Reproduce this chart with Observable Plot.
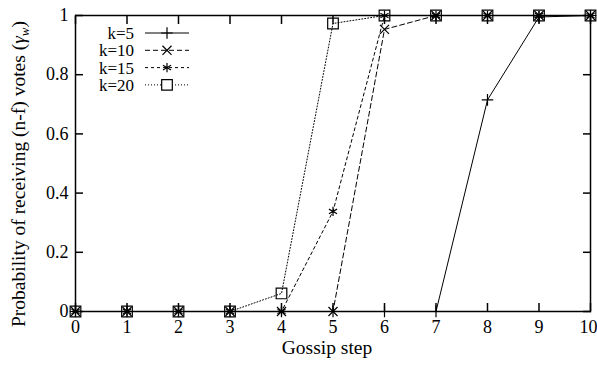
<!DOCTYPE html>
<html><head><meta charset="utf-8">
<script src="https://cdn.jsdelivr.net/npm/d3@7"></script>
<script src="https://cdn.jsdelivr.net/npm/@observablehq/plot@0.6"></script>
<style>body{margin:0;background:#fff}</style>
</head><body><div id="chart"></div>
<script>
const steps = [0,1,2,3,4,5,6,7,8,9,10];
const k5  = [0,0,0,0,0,0,0,0,0.715,0.995,1];
const k10 = [0,0,0,0,0,0,0.953,1,1,1,1];
const k15 = [0,0,0,0,0,0.338,1,1,1,1,1];
const k20 = [0,0,0,0,0.061,0.973,1,1,1,1,1];
const seriesNames = ["k=5","k=10","k=15","k=20"];
const xTicks = [0,1,2,3,4,5,6,7,8,9,10];
const yTicks = [0,0.2,0.4,0.6,0.8,1];
const xLabel = "Gossip step";
const yLabel = "Probability of receiving (n-f) votes (";

const styles = [
  {symbol:"plus", dash:null, r:3.8},
  {symbol:"times", dash:"5,3", r:4.2},
  {symbol:"asterisk", dash:"3,3", r:4.4},
  {symbol:"square", dash:"1,2", r:6}
];
const values = [k5,k10,k15,k20];
const series = values.map((vals,i)=>steps.map((s,j)=>({x:s,y:vals[j],k:seriesNames[i]})));

const font = "Liberation Serif";
const marks = [
  Plot.frame({stroke:"black", strokeWidth:1.5}),
  Plot.axisX({ticks:xTicks, tickSize:-8, tickPadding:17, tickFormat:d=>String(d), label:null, strokeWidth:1.5}),
  Plot.axisX({anchor:"top", ticks:xTicks, tickSize:-8, tickFormat:()=>"", label:null, strokeWidth:1.5}),
  Plot.axisY({ticks:yTicks, tickSize:-8, tickPadding:15, tickFormat:d=>String(d), label:null, strokeWidth:1.5}),
  Plot.axisY({anchor:"right", ticks:yTicks, tickSize:-8, tickFormat:()=>"", label:null, strokeWidth:1.5}),
];
series.forEach((d,i)=>{
  marks.push(Plot.line(d,{x:"x",y:"y",stroke:"black",strokeWidth:1,strokeDasharray:styles[i].dash}));
});
series.forEach((d,i)=>{
  marks.push(Plot.dot(d,{x:"x",y:"y",symbol:styles[i].symbol,r:styles[i].r,stroke:"black",fill:"none",strokeWidth:1.2}));
});

const plot = Plot.plot({
  width:597, height:365,
  marginLeft:75, marginRight:7, marginTop:15, marginBottom:54,
  style:"font-family:'Liberation Serif',serif;font-size:18px;color:black;background:white;overflow:visible",
  x:{domain:[0,10]},
  y:{domain:[0,1]},
  marks
});
document.getElementById("chart").appendChild(plot);

const svg = d3.select(plot);
svg.attr("font-family", font).attr("font-size", 18);
svg.append("text").attr("x",327).attr("y",354).attr("text-anchor","middle").attr("font-size",19.5).text(xLabel);
const yt = svg.append("text").attr("transform","translate(25,174) rotate(-90)").attr("text-anchor","middle").attr("font-size",19.5);
yt.append("tspan").text(yLabel);
yt.append("tspan").attr("font-style","italic").text("γ");
yt.append("tspan").attr("dy",4).attr("font-size",13).attr("font-style","italic").text("w");
yt.append("tspan").attr("dy",-4).text(")");

const symMap = {plus:d3.symbolPlus, times:d3.symbolTimes, asterisk:d3.symbolAsterisk, square:d3.symbolSquare};
const lg = svg.append("g");
seriesNames.forEach((name,i)=>{
  const y = 33 + i*17.3;
  lg.append("text").attr("x",134).attr("y",y).attr("dy","0.35em").attr("text-anchor","end").attr("font-size",17).text(name);
  lg.append("line").attr("x1",145).attr("x2",189).attr("y1",y).attr("y2",y)
    .attr("stroke","black").attr("stroke-width",1).attr("stroke-dasharray",styles[i].dash);
  const r = styles[i].r;
  lg.append("path").attr("transform",`translate(167,${y})`)
    .attr("d", d3.symbol(symMap[styles[i].symbol], r*r*Math.PI)())
    .attr("stroke","black").attr("stroke-width",1.2).attr("fill", styles[i].symbol==="square" ? "white" : "none");
});
svg.selectAll("text").attr("font-family", font);
// keep last x tick label inside the picture
svg.selectAll("text").filter(function(){ return this.textContent === "10"; }).attr("text-anchor","end").attr("dx", 7);
</script></body></html>
